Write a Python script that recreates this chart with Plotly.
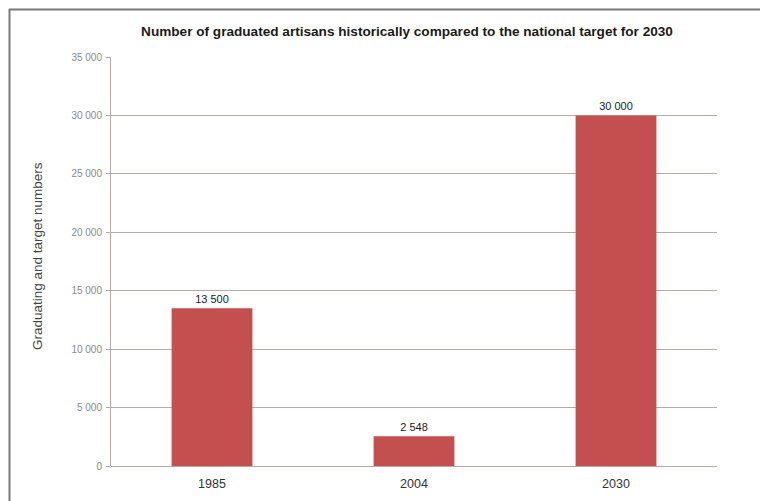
import plotly.graph_objects as go

categories = ["1985", "2004", "2030"]
values = [13500, 2548, 30000]
y_ticks = [0, 5000, 10000, 15000, 20000, 25000, 30000, 35000]

# page body has an 8px default margin; figure is sized to fill the rest
W, H = 760, 493
L, R, T, B = 103, 51, 49, 35
pw, ph = W - L - R, H - T - B


def px_x(x):
    return (x - L) / pw


def px_y(y):
    return (H - B - y) / ph


fig = go.Figure(go.Bar(
    x=categories, y=values,
    marker=dict(color="#c44f4f", line=dict(width=0)),
    texttemplate="%{y:,d}", textposition="outside",
    textfont=dict(family="Liberation Sans, Arial", size=11, color="#222222"),
    cliponaxis=False,
))

fig.update_layout(
    width=W, height=H,
    margin=dict(l=L, r=R, t=T, b=B, pad=0),
    paper_bgcolor="white", plot_bgcolor="white",
    separators=". ",
    bargap=0.6,
    showlegend=False,
    title=dict(
        text="<b>Number of graduated artisans historically compared to the national target for 2030</b>",
        x=399 / W, xanchor="center", y=1 - 23.5 / H, yanchor="middle",
        font=dict(family="Liberation Sans, Arial", size=13.6, color="#1a1a1a"),
    ),
    xaxis=dict(
        showgrid=False, showline=False, ticks="",
        ticklabelstandoff=8, automargin=False,
        tickfont=dict(family="Liberation Sans, Arial", size=12.5, color="#333333"),
    ),
    yaxis=dict(
        range=[0, 35000], tickvals=y_ticks, tickformat=",d",
        showgrid=True, gridcolor="#b8a9a9", gridwidth=1,
        showline=True, linecolor="#b8a9a9", linewidth=1,
        ticks="outside", ticklen=4, tickcolor="#b8a9a9",
        ticklabelstandoff=2, automargin=False,
        zeroline=True, zerolinecolor="#b8a9a9", zerolinewidth=1,
        tickfont=dict(family="Liberation Sans, Arial", size=10, color="#8a8a8a"),
    ),
)

fig.add_annotation(
    text="Graduating and target numbers", textangle=-90,
    xref="paper", yref="paper", x=px_x(29), y=px_y(248),
    xanchor="center", yanchor="middle", showarrow=False,
    font=dict(family="Liberation Sans, Arial", size=13.5, color="#444444"),
)

# outer frame (top and left edges)
fig.add_shape(type="line", xref="paper", yref="paper",
              x0=px_x(1), x1=px_x(W + 10), y0=px_y(1.5), y1=px_y(1.5),
              line=dict(color="#7a7a7a", width=2))
fig.add_shape(type="line", xref="paper", yref="paper",
              x0=px_x(1.5), x1=px_x(1.5), y0=px_y(1), y1=px_y(H + 10),
              line=dict(color="#7a7a7a", width=2))

fig.write_html("out.html")
